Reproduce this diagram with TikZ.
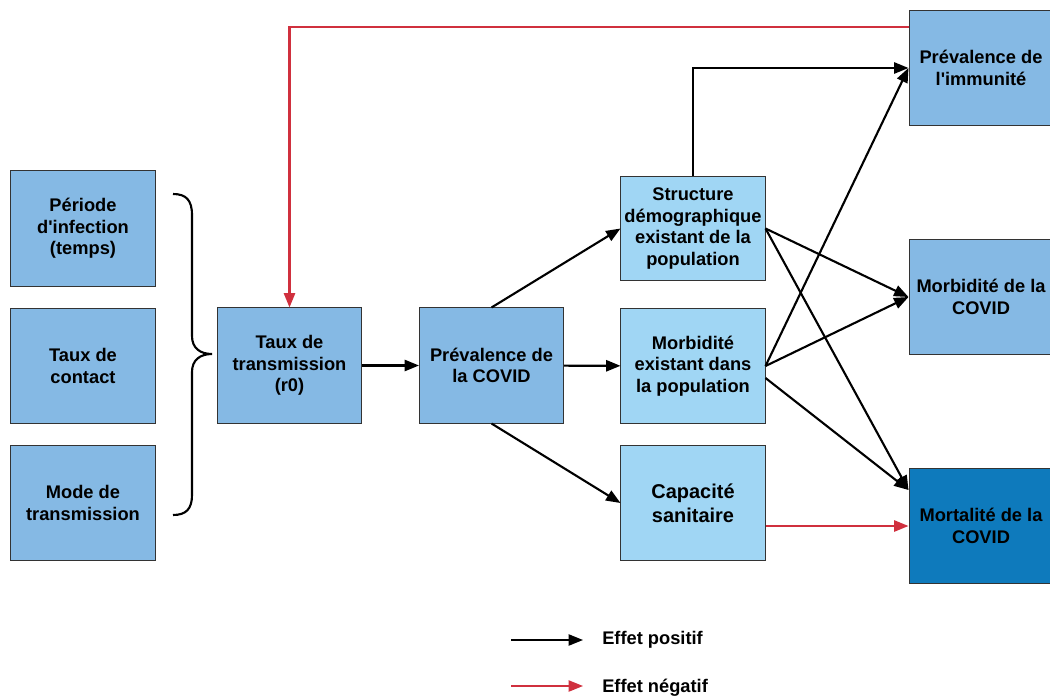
\documentclass[tikz,border=0pt]{standalone}
\usepackage{fontspec}
\setmainfont{Liberation Sans}
\usetikzlibrary{arrows.meta}
\definecolor{boxblue}{RGB}{133,185,228}
\definecolor{lightblue}{RGB}{160,214,244}
\definecolor{darkblue}{RGB}{14,122,188}
\definecolor{negred}{RGB}{208,48,62}

\begin{document}
\begin{tikzpicture}[x=0.025cm,y=-0.025cm,
	box/.style={draw=black!80,line width=0.7pt,fill=boxblue,minimum width=3.6cm,minimum height=2.875cm,inner sep=0pt,align=center,font=\fontsize{13}{15.4}\selectfont\bfseries},
	effpos/.style={draw=black,line width=1.5pt,-{Triangle[length=0.36cm,width=0.28cm]}},
	effneg/.style={draw=negred,line width=1.5pt,-{Triangle[length=0.36cm,width=0.28cm]}},
	legtext/.style={anchor=west,inner sep=0pt,font=\fontsize{13}{15.4}\selectfont\bfseries}]
	\clip (0,0) rectangle (1050,696);

	%The three factors on the left
	\node[box] (periode) at (83,228.5) {Période\\d\textquotesingle infection\\(temps)};
	\node[box] (contact) at (83,366) {Taux de\\contact};
	\node[box] (mode) at (83,503) {Mode de\\transmission};

	%Brace
	\draw[line width=1.5pt] (173,194) .. controls (186,194) and (192,200) .. (192,215) -- (192,336)
		.. controls (192,348) and (200,354) .. (212,354)
		.. controls (200,354) and (192,360) .. (192,372) -- (192,495)
		.. controls (192,509) and (186,515) .. (173,515);

	%Middle chain
	\node[box] (taux) at (289.5,365.5) {Taux de\\transmission\\(r0)};
	\node[box] (prevcovid) at (491.5,365.5) {Prévalence de\\la COVID};

	\node[box,fill=lightblue,minimum height=2.575cm] (struct) at (693,228.5) {Structure\\démographique\\existant de la\\population};
	\node[box,fill=lightblue] (morbex) at (693,366) {Morbidité\\existant dans\\la population};
	\node[box,fill=lightblue,font=\fontsize{14.2}{17}\selectfont\bfseries] (capa) at (693,503) {Capacité\\sanitaire};

	%Outcomes on the right
	\node[box] (immun) at (981,68) {Prévalence de\\l\textquotesingle immunité};
	\node[box] (morbcov) at (981,297) {Morbidité de la\\COVID};
	\node[box,fill=darkblue] (mort) at (981,526) {Mortalité de la\\COVID};

	%Negative effect of immunity on transmission
	\draw[effneg] ([yshift=-0.425cm]immun.north west) -| (taux.north);

	\draw[effpos] (taux) -- (prevcovid);
	\draw[effpos] (prevcovid.north) -- (struct.west);
	\draw[effpos] (prevcovid) -- (morbex);
	\draw[effpos] (prevcovid.south) -- (capa.west);

	\draw[effpos] (struct.north) |- (immun.west);
	\draw[effpos] (struct.east) -- (morbcov.west);
	\draw[effpos] (struct.east) -- ([yshift=-0.55cm]mort.north west);

	\draw[effpos] (morbex.east) -- (immun.west);
	\draw[effpos] (morbex.east) -- (morbcov.west);
	\draw[effpos] ([yshift=-0.3cm]morbex.east) -- ([yshift=-0.55cm]mort.north west);

	\draw[effneg] (mort.west -| capa.east) -- (mort.west);

	%Legend
	\coordinate (lpa) at (511,640);
	\coordinate (lpb) at (583,640);
	\coordinate (lna) at (511,686);
	\coordinate (lnb) at (583,686);
	\draw[effpos,line width=1.2pt] (lpa) -- (lpb);
	\draw[effneg,line width=1.2pt] (lna) -- (lnb);
	\node[legtext] (legpos) at (602,640) {Effet positif};
	\node[legtext] (legneg) at (602,688) {Effet négatif};

\end{tikzpicture}
\end{document}
